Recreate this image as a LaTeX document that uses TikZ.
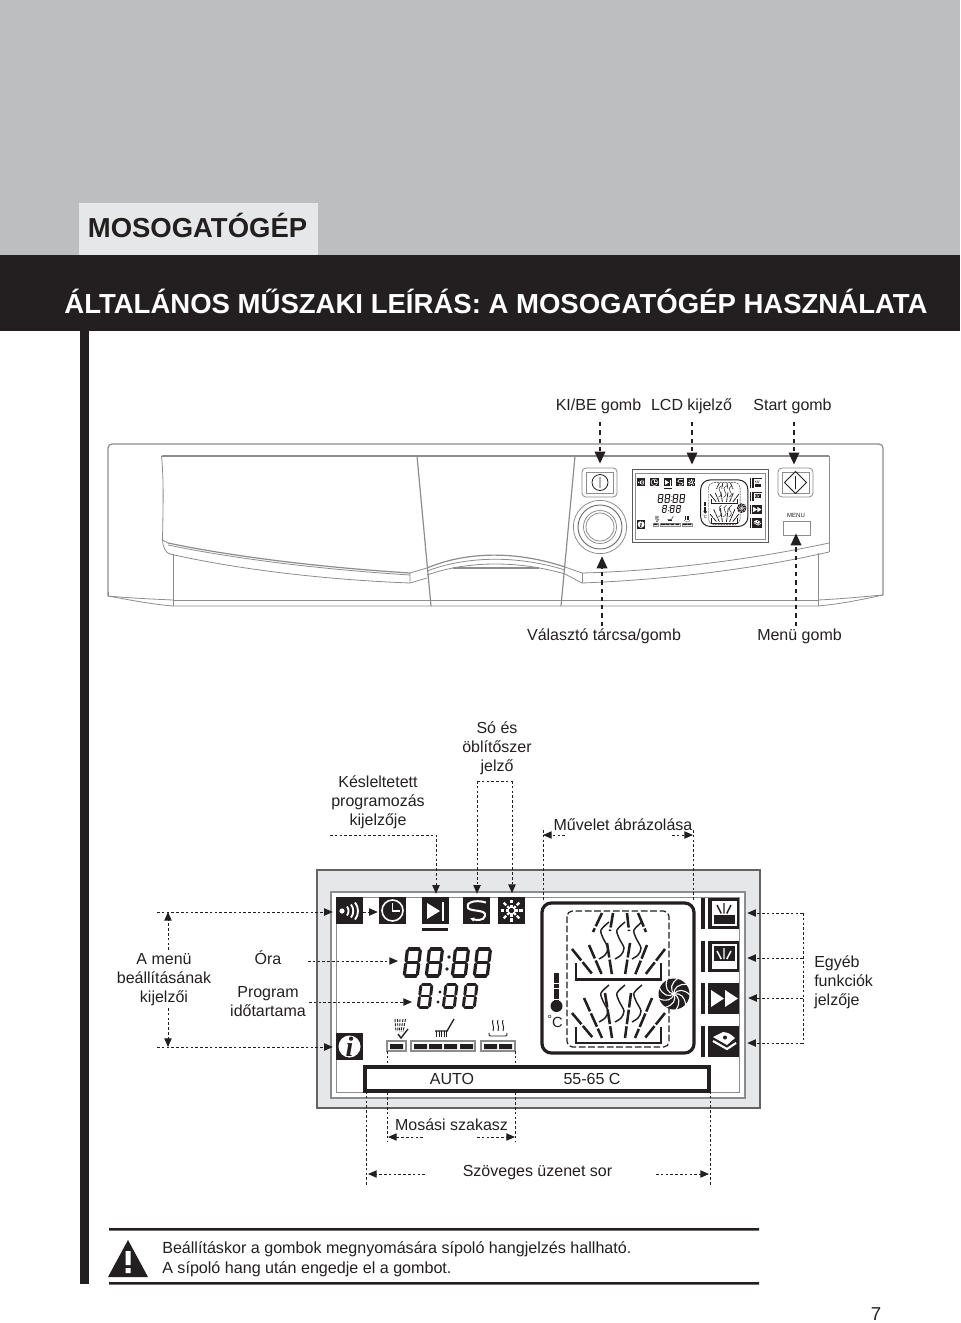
\documentclass[tikz,border=0pt]{standalone}
\usepackage{fontspec}
\setmainfont{Liberation Sans}
\newfontfamily\serifi{Liberation Serif}
\usetikzlibrary{arrows.meta,calc}
\definecolor{ink}{HTML}{231F20}
\definecolor{topg}{HTML}{BCBEC0}
\definecolor{lightg}{HTML}{E6E7E8}
\definecolor{pline}{HTML}{8A8C8E}
\def\lwf{1}
\tikzset{
  x=0.75pt,y=-0.75pt,
  lab/.style={font=\fontsize{12}{14.25}\selectfont,text=ink,inner sep=0pt,align=center,yshift=-1.2pt},
  heavyarrow/.style={draw=ink,line width=1.05pt,dash pattern=on 3.2pt off 3pt,-{Triangle[length=9pt,width=8pt]}},
  dotarrow/.style={draw=ink,line width=0.7pt,dash pattern=on 2pt off 1.6pt,-{Triangle[length=6.5pt,width=5.5pt]}},
  dotline/.style={draw=ink,line width=0.7pt,dash pattern=on 2pt off 1.6pt},
  panel/.style={draw=pline,line width=0.6pt},
  panelthick/.style={draw=pline,line width=0.9pt},
  panelbtn/.style={draw=pline,line width=0.6pt,rounded corners=3pt,fill=white,inner sep=0pt},
  iconsq/.style={fill=ink,inner sep=0pt,minimum width=20.25pt,minimum height=20.25pt},
  iconbig/.style={fill=ink,inner sep=0pt,minimum width=23.25pt,minimum height=23.25pt},
  wht/.style={draw=white,line width=1.2pt*\lwf},
  blk/.style={draw=ink,line width=1.6pt*\lwf},
  slim/.style={draw=ink,line width=0.7pt*\lwf},
}
\newcommand\sevseg[5]{%
  \begin{scope}[shift={(#1,#2)},xslant=.12,draw=ink,line width=#5*\lwf,line cap=round]
    \draw (1.6,0)--(#3-1.6,0);
    \draw (1.6,#4/2)--(#3-1.6,#4/2);
    \draw (1.6,#4)--(#3-1.6,#4);
    \draw (0,1.6)--(0,#4/2-1.6);
    \draw (#3,1.6)--(#3,#4/2-1.6);
    \draw (0,#4/2+1.6)--(0,#4-1.6);
    \draw (#3,#4/2+1.6)--(#3,#4-1.6);
  \end{scope}}
\newcommand\wavyline[2]{%
  \draw[slim,line width=1.1pt*\lwf] plot[smooth] coordinates {(#1+5,#2) (#1-3,#2+8) (#1-1,#2+16) (#1+4,#2+26) (#1+1,#2+33) (#1-5,#2+37)};}
\newcommand\lcdbody{%
  % top icons
  \node[iconsq] (spk) at (349.5,910.5) {};
  \fill[white] (342,911) circle (2.6);
  \draw[wht,line width=1.4pt*\lwf] (347,906.5) .. controls (349,909) and (349,913) .. (347,915.5);
  \draw[wht,line width=1.4pt*\lwf] (351,904.5) .. controls (354,908) and (354,914) .. (351,917.5);
  \draw[wht,line width=1.4pt*\lwf] (355,902.5) .. controls (359,907) and (359,915) .. (355,919.5);
  \node[iconsq] (clk) at (392.5,910.5) {};
  \draw[wht] (392.5,910.5) circle (10.5);
  \draw[wht] (392.5,903)--(392.5,911)--(400,911);
  \node[iconsq] (ply) at (435.5,910.5) {};
  \fill[white] (427,903)--(427,919)--(440,911)--cycle;
  \fill[white] (442,902) rectangle (444,921);
  \fill[ink] (422,927.5) rectangle (448,930.5);
  \node[iconsq] (slt) at (476,910.5) {};
  \draw[wht,line width=1.5pt*\lwf,-{Latex[length=3pt*\lwf,width=3.5pt*\lwf]}] (486,902.5) .. controls (474,899) and (465,903) .. (468,908) .. controls (471,912) and (487,909) .. (485,916) .. controls (484,921) and (476,920) .. (470,918.5);
  \node[iconsq] (rns) at (511.5,910.5) {};
  \foreach \a in {0,45,...,315}{
    \draw[wht,line width=1.7pt*\lwf,shift={(511.5,910.5)},rotate=\a] (2.5,0)--(6,0) (7.5,0)--(11,0);
  }
  \node[iconsq] (inf) at (349.5,1046.5) {};
  \fill[white] (349.5,1046.5) circle (11);
  \node[inner sep=0pt,transform shape,font=\serifi\fontsize{21}{21}\selectfont\bfseries\itshape,text=ink] (infi) at (349.5,1046.5) {i};
  % time digits
  \sevseg{407.5}{949}{13}{27}{2.4pt}
  \sevseg{429.5}{949}{13}{27}{2.4pt}
  \sevseg{455.5}{949}{13}{27}{2.4pt}
  \sevseg{477.5}{949}{13}{27}{2.4pt}
  \fill[ink] (449,957) circle (1.8) (447,969) circle (1.8);
  \sevseg{421}{984.5}{11}{23}{2.2pt}
  \sevseg{446}{984.5}{11}{23}{2.2pt}
  \sevseg{466}{984.5}{11}{23}{2.2pt}
  \fill[ink] (440,992) circle (1.6) (438,1002) circle (1.6);
  % phase symbols
  \foreach \p/\q in {392/398,394.5/400,397/401.5,400/403,402.5/405}{
    \draw[slim,dash pattern=on 2.2pt*\lwf off 1pt*\lwf] (\p+3,1019)--(\q-2,1032);
  }
  \draw[slim,line width=1pt*\lwf] (398,1034)--(401,1038)--(408,1029);
  \draw[slim,line width=1pt*\lwf] (435,1031)--(448,1031) (454,1019)--(447,1031);
  \foreach \p in {436.5,439,441.5,444,446.5}{\draw[slim] (\p,1031)--(\p,1037);}
  \foreach \p in {493,498,503}{
    \draw[slim] (\p,1020) .. controls (\p-2,1023) and (\p+2,1026) .. (\p,1031);
  }
  \draw[slim] (489,1033) .. controls (489,1036) .. (491,1036)--(505,1036) .. controls (507,1036) .. (507,1033);
  % phase bars
  \node[draw=pline,line width=0.8pt*\lwf,fill=white,minimum width=14.25pt,minimum height=7.5pt,inner sep=0pt] (ph1) at (396.5,1046) {};
  \node[draw=pline,line width=0.8pt*\lwf,fill=white,minimum width=48pt,minimum height=7.5pt,inner sep=0pt] (ph2) at (443,1046) {};
  \node[draw=pline,line width=0.8pt*\lwf,fill=white,minimum width=25.5pt,minimum height=7.5pt,inner sep=0pt] (ph3) at (498,1046) {};
  \fill[ink] (390,1044) rectangle (403,1049)
     (414,1044) rectangle (427,1049) (429,1044) rectangle (442,1049)
     (444,1044) rectangle (457,1049) (460,1044) rectangle (473,1049)
     (484,1044) rectangle (497,1049) (499,1044) rectangle (512,1049);
  % wash tub
  \node[draw=ink,line width=2.4pt*\lwf,rounded corners=7pt,minimum width=114pt,minimum height=112.5pt,inner sep=0pt,fill=white] (tub) at (618,978) {};
  \draw[slim,line width=0.9pt*\lwf,dash pattern=on 5pt*\lwf off 2pt*\lwf,rounded corners=4pt] (567,911) rectangle (669,1047);
  \draw[draw=ink,line width=1.9pt*\lwf] (576,963)--(576,979.5)--(661,979.5)--(661,963);
  \draw[draw=ink,line width=1.9pt*\lwf] (576,1027)--(576,1043)--(661,1043)--(661,1027);
  \foreach \xa/\ya/\xb/\yb in {572/949/593/975,589/945/602/975,607/943/612/975,630/943/625/975,647/945/635/975,665/949/645/975,
     602/913/593/932,613/913/610/931,627/913/629/931,638/913/646/932,
     572/1013/593/1038,584/998/602/1038,605/993/612/1038,631/993/625/1038,652/998/635/1038,665/1013/645/1038}{
    \draw[draw=ink,line width=1.9pt*\lwf,dash pattern=on 11pt*\lwf off 1.6pt*\lwf] (\xa,\ya)--(\xb,\yb);
  }
  \wavyline{604}{922}\wavyline{620}{922}\wavyline{637}{922}
  \wavyline{604}{985}\wavyline{620}{985}\wavyline{637}{985}
  % fan
  \fill[ink] (674,994) circle (15.5);
  \foreach \a in {0,40,...,320}{
    \draw[white,line width=0.8pt*\lwf,shift={(674,994)},rotate=\a] (0,0) .. controls (4,-5) and (10,-5) .. (16,1);
  }
  \fill[white] (674,994) circle (1.2);
  % thermometer
  \draw[draw=ink,line width=3.6pt*\lwf,dash pattern=on 3.4pt*\lwf off .6pt*\lwf] (556.5,973)--(556.5,1002);
  \fill[ink] (556.5,1006) circle (6);
  \node[transform shape,lab,yshift=1.2pt,font=\fontsize{11}{12}\selectfont] (deg) at (555,1021) {\raisebox{3pt}{\scalebox{.8}{°}}C};
  % right icons
  \foreach \yy in {898,941,983,1026}{\fill[ink] (701,\yy) rectangle (705,\yy+31);}
  \node[iconbig] (fn1) at (723.5,913.5) {};
  \fill[white] (713,902) rectangle (736,915);
  \draw[wht,line width=.9pt*\lwf] (713,902) rectangle (736,925);
  \foreach \a/\b in {717/905,724/903,731/905}{\draw[blk,line width=1.1pt*\lwf] (\a,\b)--(724+\a*.4-289.6,913.5);}
  \node[iconbig] (fn2) at (723.5,956.5) {};
  \fill[white] (713,961) rectangle (736,967);
  \draw[wht,line width=.9pt*\lwf] (713,945) rectangle (736,968);
  \foreach \a/\b in {717/950,724/947,731/950}{\draw[wht,line width=1.1pt*\lwf] (\a,\b+1)--(724+\a*.4-289.6,959);}
  \node[iconbig] (fn3) at (723.5,998.5) {};
  \fill[white] (711,990)--(711,1007)--(724,998.5)--cycle (725,990)--(725,1007)--(738,998.5)--cycle;
  \node[iconbig] (fn4) at (723.5,1041.5) {};
  \fill[white] (713,1037)--(723,1032) .. controls (729,1033) .. (735,1038)--(727,1045)--cycle;
  \fill[ink] (725,1037.5) circle (2);
  \draw[wht,line width=1.6pt*\lwf] (713,1041)--(727,1049)--(736,1043);
}
\begin{document}
\begin{tikzpicture}
\useasboundingbox (0,0) rectangle (960,1323);
% header
\fill[topg] (0,0) rectangle (960,255);
\node[fill=lightg,minimum width=179.25pt,minimum height=39pt,inner sep=0pt] (tabbox) at (198.5,229) {};
\node[lab,font=\fontsize{20.6}{24}\bfseries\selectfont] (tabtext) at (197.5,223.5) {MOSOGATÓGÉP};
\fill[ink] (0,255) rectangle (960,331);
\node[lab,text=white,font=\fontsize{20.65}{24}\bfseries\selectfont] (title) at (496,299.5) {ÁLTALÁNOS MŰSZAKI LEÍRÁS: A MOSOGATÓGÉP HASZNÁLATA};
\fill[ink] (80,331) rectangle (89,1284);
% control panel
\draw[panelthick,rounded corners=3pt] (108,596)--(108,444)--(883,444)--(883,595);
\draw[panel] (108,596) .. controls (130,600) and (150,604) .. (173,606)--(818,606) .. controls (840,604) and (860,600) .. (883,595);
\draw[panel] (108,596)--(108,592) (173,600)--(818,600);
\draw[panel] (818,600) .. controls (840,599) and (860,597) .. (883,595);
\draw[panel] (108,596) .. controls (130,598) and (150,599) .. (173,600);
\draw[panelthick] (161.5,456)--(829,456);
\draw[panelthick] (417,456)--(431,606) (575,456)--(561,606);
\draw[panel] (161.5,456) .. controls (164,480) and (163,510) .. (162.5,540) .. controls (163,548) and (166,553) .. (170,554);
\draw[panel] (162.5,540)--(168,543);
\draw[panelthick] (168,543) .. controls (240,558) and (330,568) .. (410,573);
\draw[panel] (168,545) .. controls (240,560) and (330,570) .. (410,575);
\draw[panel] (170,554) .. controls (240,570) and (330,580) .. (410,583)--(427,578);
\draw[panel] (410,573)--(427,568) (410,573)--(410,583);
\draw[panel] (173,554)--(173,606);
\draw[panelthick] (427,568) .. controls (470,550) and (520,552) .. (565,567);
\draw[panel] (427,571) .. controls (470,555) and (520,556) .. (565,570);
\draw[panel] (427,575) .. controls (470,560) and (520,561) .. (565,574);
\draw[panelthick] (453,568)--(539,568);
\draw[panel] (565,567)--(582,573) .. controls (660,571) and (750,560) .. (829,543);
\draw[panel] (565,574)--(582,583) .. controls (660,580) and (750,570) .. (829,552);
\draw[panel] (582,573)--(582,583) (829,456)--(829,552) (818,553)--(818,606);
% buttons and dial
\node[panelbtn,minimum width=26.25pt,minimum height=21.75pt] (onoff) at (599.5,482.5) {};
\draw[panel] (586,472) rectangle (613,493);
\draw[draw=ink,line width=.6pt] (600,482.5) circle (8) (600,477)--(600,488);
\node[panelbtn,minimum width=26.25pt,minimum height=21.75pt] (start) at (795.5,482.5) {};
\draw[panel] (782,472) rectangle (809,493);
\draw[draw=ink,line width=.7pt] (795.5,471.5)--(806.5,482.5)--(795.5,493.5)--(784.5,482.5)--cycle (795.5,476)--(795.5,489);
\node[circle,draw=pline,line width=.6pt,minimum size=40pt,inner sep=0pt] (dial) at (600,527) {};
\draw[draw=ink!65,line width=.7pt] (600,527) circle (22);
\draw[panel] (600,527) circle (16.5) (600,527) circle (14);
\node[draw=pline,line width=.6pt,minimum width=20.25pt,minimum height=10.5pt,inner sep=0pt] (menubtn) at (796.5,528) {};
\node[lab,yshift=1.2pt,font=\fontsize{4.5}{5}\selectfont] (menutxt) at (796,515.5) {MENU};
% miniature display
\node[draw=ink!75,line width=.7pt,minimum width=102pt,minimum height=54.75pt,inner sep=0pt] (minilcd) at (700,505.5) {};
\draw[pline,line width=.3pt] (635,473) rectangle (765,539);
\begin{scope}[shift={(532.7,200)},scale=0.31,transform shape]
  \def\lwf{0.31}
  \lcdbody
\end{scope}
% large display
\node[draw=ink!70,line width=1.2pt,fill=lightg,minimum width=332.25pt,minimum height=178.5pt,inner sep=0pt] (lcdframe) at (538.5,989) {};
\node[draw=pline,line width=.8pt,fill=white,minimum width=310.5pt,minimum height=154.5pt,inner sep=0pt] (lcdface) at (538,995) {};
\draw[pline,line width=.6pt] (336,897) rectangle (739,1092);
\lcdbody
\node[draw=ink,line width=2.3pt,fill=white,minimum width=258pt,minimum height=18pt,inner sep=0pt] (msgbar) at (537,1079) {};
\node[lab] (auto) at (452,1077.5) {AUTO};
\node[lab] (temp) at (592,1077.5) {55-65 C};
% top labels and arrows
\node[lab] (l1) at (598.5,405) {KI/BE gomb};
\node[lab] (l2) at (691.5,405) {LCD kijelző};
\node[lab] (l3) at (792.5,405) {Start gomb};
\node[lab] (l4) at (604,635) {Választó tárcsa/gomb};
\node[lab] (l5) at (799.5,635) {Menü gomb};
\coordinate (a1) at (600,422);
\coordinate (a2) at (692,422);
\coordinate (a3) at (794,422);
\coordinate (a4) at (602,626);
\coordinate (a5) at (796,626);
\draw[heavyarrow,shorten >=3pt] (a1)--(a1 |- onoff.north);
\draw[heavyarrow,shorten >=3pt] (a2)--(a2 |- minilcd.north);
\draw[heavyarrow,shorten >=2.3pt] (a3)--(a3 |- start.north);
\draw[heavyarrow,shorten >=1.7pt] (a4)--(a4 |- dial.south);
\draw[heavyarrow,shorten >=-1.5pt] (a5)--(a5 |- menubtn.south);
% labels above the display
\node[lab] (l6) at (378,800.5) {Késleltetett\\programozás\\kijelzője};
\node[lab] (l7) at (497,746.5) {Só és\\öblítőszer\\jelző};
\node[lab] (l8) at (623,823) {Művelet ábrázolása};
\coordinate (b0) at (330,835);
\coordinate (b1) at (436,835);
\coordinate (b2) at (477,781);
\coordinate (b3) at (512,781);
\draw[dotarrow,shorten >=2.2pt] (b0)--(b1)--(b1 |- ply.north);
\draw[dotline] (b2)--(b3);
\draw[dotarrow,shorten >=2.2pt] (b2)--(b2 |- slt.north);
\draw[dotarrow,shorten >=2.7pt] (b3)--(b3 |- rns.north);
\coordinate (c1) at (543,830);
\coordinate (c2) at (693,830);
\coordinate (c3) at (543,835);
\coordinate (c4) at (693,835);
\coordinate (c5) at (565,835);
\coordinate (c6) at (672,835);
\draw[dotline] (c1)--(c1 |- tub.north);
\draw[dotline] (c2)--(c2 |- tub.north);
\draw[dotarrow] (c5)--(c3);
\draw[dotarrow] (c6)--(c4);
% left labels
\node[lab] (l9) at (164,978) {A menü\\beállításának\\kijelzői};
\node[lab] (l10) at (268,956.5) {Óra};
\node[lab] (l11) at (268,1000) {Program\\időtartama};
\coordinate (d1) at (157,912);
\coordinate (d2) at (157,1047);
\coordinate (d3) at (308,961);
\coordinate (d4) at (309,1002);
\coordinate (d5) at (168,950);
\coordinate (d6) at (168,912);
\coordinate (d7) at (168,1008);
\coordinate (d8) at (168,1047);
\coordinate (d9) at (398,961);
\coordinate (d10) at (412,1002);
\coordinate (d11) at (363,912);
\draw[dotarrow,shorten >=2.2pt] (d1)--(d1 -| spk.west);
\draw[dotarrow,shorten >=2.2pt] (d2)--(d2 -| inf.west);
\draw[dotarrow] (d3)--(d9);
\draw[dotarrow] (d4)--(d10);
\draw[dotarrow] (d5)--(d6);
\draw[dotarrow] (d7)--(d8);
\draw[dotarrow,shorten >=.7pt] (d11)--(d11 -| clk.west);
% right labels
\node[lab,align=left,anchor=west] (l12) at (814,980.5) {Egyéb\\funkciók\\jelzője};
\coordinate (e1) at (803,913);
\coordinate (e2) at (803,958);
\coordinate (e3) at (803,998);
\coordinate (e4) at (803,1043);
\draw[dotline] (e1)--(e4);
\draw[dotarrow,shorten >=6pt] (e1)--(e1 -| fn1.east);
\draw[dotarrow,shorten >=6pt] (e2)--(e2 -| fn2.east);
\draw[dotarrow,shorten >=6.7pt] (e3)--(e3 -| fn3.east);
\draw[dotarrow,shorten >=6pt] (e4)--(e4 -| fn4.east);
% labels below the display
\node[lab] (l13) at (451.5,1123) {Mosási szakasz};
\node[lab] (l14) at (537.5,1171) {Szöveges üzenet sor};
\coordinate (f1) at (366,1091);
\coordinate (f2) at (366,1185);
\coordinate (f3) at (710,1091);
\coordinate (f4) at (710,1185);
\coordinate (f5) at (387,1051);
\coordinate (f6) at (387,1142);
\coordinate (f7) at (515,1051);
\coordinate (f8) at (515,1142);
\draw[dotline] (f1)--(f2);
\draw[dotline] (f3)--(f4);
\draw[dotline] (f5)--(f5 |- msgbar.north);
\draw[dotline] (f5 |- msgbar.south)--(f6);
\draw[dotline] (f7)--(f7 |- msgbar.north);
\draw[dotline] (f7 |- msgbar.south)--(f8);
\coordinate (g1) at (423,1137);
\coordinate (g2) at (388,1137);
\coordinate (g3) at (477,1137);
\coordinate (g4) at (515,1137);
\coordinate (g5) at (425,1174);
\coordinate (g6) at (368,1174);
\coordinate (g7) at (656,1174);
\coordinate (g8) at (709,1174);
\draw[dotarrow] (g1)--(g2);
\draw[dotarrow] (g3)--(g4);
\draw[dotarrow] (g5)--(g6);
\draw[dotarrow] (g7)--(g8);
% warning
\fill[ink] (109,1228) rectangle (759,1230.5) (109,1282) rectangle (759,1284.5);
\fill[ink] (128,1240)--(148,1277)--(108,1277)--cycle;
\fill[white] (125.5,1251) rectangle (130.5,1265) (125.5,1268) rectangle (130.5,1273);
\node[lab,align=left,anchor=west,font=\fontsize{12.08}{15}\selectfont] (warn) at (162,1258) {Beállításkor a gombok megnyomására sípoló hangjelzés hallható.\\A sípoló hang után engedje el a gombot.};
\node[lab,font=\fontsize{14}{16}\selectfont] (pageno) at (876,1312.5) {7};
\end{tikzpicture}
\end{document}
